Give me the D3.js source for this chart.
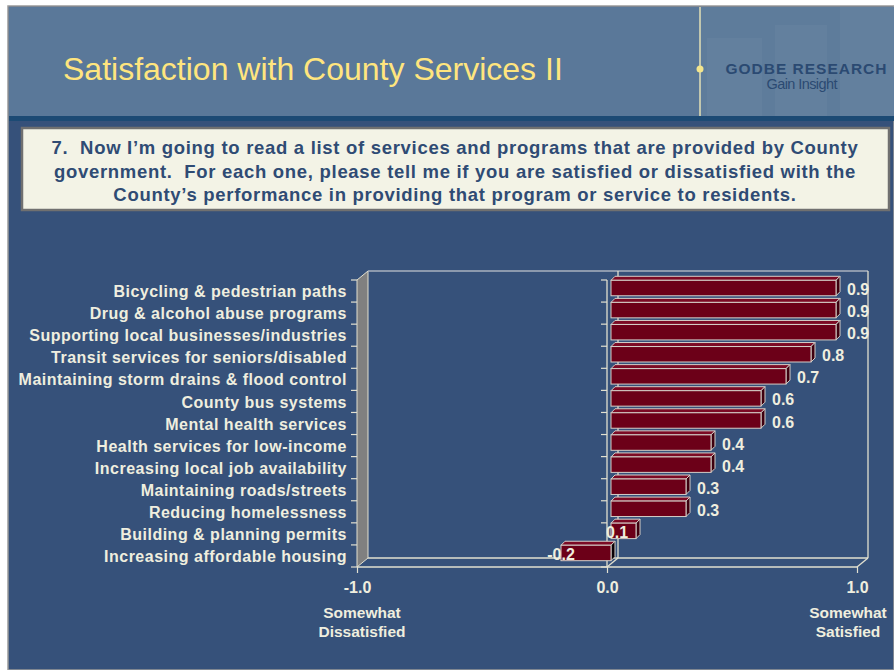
<!DOCTYPE html>
<html>
<head>
<meta charset="utf-8">
<script src="https://cdn.jsdelivr.net/npm/d3@7"></script>
<style>
	body { margin: 0; background: #fff; }
	svg { display: block; font-family: 'Liberation Sans', Arial, sans-serif; }
</style>
</head>
<body>
<div id="chart"></div>
<script>

var title = 'Satisfaction with County Services II';
var question = [
	'7.  Now I\u2019m going to read a list of services and programs that are provided by County',
	'government.  For each one, please tell me if you are satisfied or dissatisfied with the',
	'County\u2019s performance in providing that program or service to residents.'
];

var categories = [
	'Bicycling & pedestrian paths',
	'Drug & alcohol abuse programs',
	'Supporting local businesses/industries',
	'Transit services for seniors/disabled',
	'Maintaining storm drains & flood control',
	'County bus systems',
	'Mental health services',
	'Health services for low-income',
	'Increasing local job availability',
	'Maintaining roads/streets',
	'Reducing homelessness',
	'Building & planning permits',
	'Increasing affordable housing'
];
var values = [0.9, 0.9, 0.9, 0.8, 0.7, 0.6, 0.6, 0.4, 0.4, 0.3, 0.3, 0.1, -0.2];
var ticks = [-1, 0, 1];
var tickNotes = [['Somewhat', 'Dissatisfied'], [], ['Somewhat', 'Satisfied']];

var W = 894, H = 670;
var BODY = '#36517a';
var LINE = '#e2e0d0';
var TEXT = '#efeedf';
var fmt = d3.formatLocale({ decimal: '.', thousands: ',', grouping: [3], currency: ['', ''], minus: '-' }).format('.1f');

var svg = d3.select('#chart').append('svg').attr('width', W).attr('height', H);

// slide frame and header
svg.append('rect').attr('x', 8).attr('y', 6).attr('width', W - 8).attr('height', H - 6).style('fill', BODY).style('stroke', '#9a9a9a').style('stroke-width', 1.5);
svg.append('rect').attr('x', 9).attr('y', 7).attr('width', W - 9).attr('height', 110).style('fill', '#5a7899');
svg.append('rect').attr('x', 700).attr('y', 7).attr('width', W - 700).attr('height', 110).style('fill', '#5e7c9b');

[[707, 38, 55], [775, 25, 52], [840, 7, 54]].forEach(function(r) {
	svg.append('rect').attr('x', r[0]).attr('y', r[1]).attr('width', r[2]).attr('height', 117 - r[1]).style('fill', '#fff').style('opacity', 0.03);
});

svg.append('rect').attr('x', 9).attr('y', 116).attr('width', W - 9).attr('height', 5).style('fill', '#1c4a74');
svg.append('line').attr('x1', 700).attr('x2', 700).attr('y1', 7).attr('y2', 116).style('stroke', '#e4e0b6').style('stroke-width', 1.5);
svg.append('circle').attr('cx', 700).attr('cy', 69).attr('r', 3.5).style('fill', '#f3e58c');

svg.append('text').attr('x', 63).attr('y', 80).text(title)
	.style('font-size', '32px').style('fill', '#ffe57e');

svg.append('text').attr('x', 806).attr('y', 74).attr('text-anchor', 'middle').text('GODBE RESEARCH')
	.attr('textLength', 161).style('font-size', '15.5px').style('font-weight', 'bold').style('fill', '#2b4a72');
svg.append('text').attr('x', 802).attr('y', 89).attr('text-anchor', 'middle').text('Gain Insight')
	.attr('textLength', 71).style('font-size', '14.5px').style('fill', '#2b4a72');

// question box
svg.append('rect').attr('x', 22).attr('y', 128).attr('width', 867).attr('height', 82)
	.style('fill', '#f3f3e6').style('stroke', '#707070').style('stroke-width', 2.5);

svg.append('g').selectAll('text').data(question).enter().append('text')
	.attr('x', 455).attr('y', function(d, i) { return 154 + i * 23.5; })
	.attr('text-anchor', 'middle').text(function(d) { return d; })
	.style('white-space', 'pre')
	.style('font-size', '18.5px').style('letter-spacing', '0.7px').style('font-weight', 'bold').style('fill', '#2f4b74');

// chart
var x = d3.scaleLinear().domain([-1, 1]).range([357, 857]);
var y = d3.scaleBand().domain(categories).range([280, 567]);
var dx = 11, dy = -9;
var bh = y.bandwidth() * 0.7;
var top0 = y.range()[0], bot0 = y.range()[1];

var chart = svg.append('g');

// left wall
chart.append('path')
	.attr('d', 'M{0},{1}L{2},{3}L{2},{4}L{0},{5}Z'.replace(/\{(\d)\}/g, function(m, k) {
		return [x(-1), top0, x(-1) + dx, top0 + dy, bot0 + dy, bot0][k];
	}))
	.style('fill', '#808080').style('stroke', LINE).style('stroke-width', 1);

// back wall + floor
var frame = [
	[x(-1) + dx, top0 + dy, x(1) + dx, top0 + dy, '#aab2bf'],
	[x(1) + dx, top0 + dy, x(1) + dx, bot0 + dy, LINE],
	[x(-1) + dx, bot0 + dy, x(1) + dx, bot0 + dy, LINE],
	[x(-1), bot0, x(1), bot0, LINE],
	[x(1), bot0, x(1) + dx, bot0 + dy, LINE],
	[x(0), bot0, x(0) + dx, bot0 + dy, LINE],
	[x(0) + dx, top0 + dy, x(0) + dx, bot0 + dy, LINE],
	[x(0), top0, x(0), bot0, LINE]
];

chart.selectAll('line.frame').data(frame).enter().append('line').attr('class', 'frame')
	.attr('x1', function(d) { return d[0]; }).attr('y1', function(d) { return d[1]; })
	.attr('x2', function(d) { return d[2]; }).attr('y2', function(d) { return d[3]; })
	.style('stroke', function(d) { return d[4]; }).style('stroke-width', 1.3);

// category ticks (between categories)
var bounds = categories.map(function(c) { return y(c); }).concat([bot0]);
[x(-1), x(0)].forEach(function(px) {
	chart.append('g').selectAll('line').data(bounds).enter().append('line')
		.attr('x1', px - 6).attr('x2', px).attr('y1', function(d) { return d; }).attr('y2', function(d) { return d; })
		.style('stroke', LINE).style('stroke-width', 1.2);
});

// category labels
var yAxis = chart.append('g').attr('transform', 'translate(' + x(-1) + ',1)')
	.call(d3.axisLeft(y).tickSize(0).tickPadding(10));
yAxis.select('.domain').remove();
yAxis.selectAll('text').style('font-size', '16px').style('font-weight', 'bold').style('letter-spacing', '0.5px')
	.style('fill', TEXT).style('font-family', "'Liberation Sans', Arial, sans-serif");

// value axis
var xAxis = chart.append('g').attr('transform', 'translate(0,' + bot0 + ')')
	.call(d3.axisBottom(x).tickValues(ticks).tickFormat(fmt).tickSize(6).tickPadding(9));
xAxis.select('.domain').remove();
xAxis.selectAll('line').style('stroke', LINE).style('stroke-width', 1.2);
xAxis.selectAll('text').style('font-size', '16px').style('font-weight', 'bold').style('fill', TEXT)
	.style('font-family', "'Liberation Sans', Arial, sans-serif");

ticks.forEach(function(t, i) {
	chart.append('g').selectAll('text').data(tickNotes[i]).enter().append('text')
		.attr('x', x(t) + (t < 0 ? 5 : t > 0 ? -9 : 0)).attr('y', function(d, j) { return 618 + j * 19; })
		.attr('text-anchor', 'middle').text(function(d) { return d; })
		.style('font-size', '15.5px').style('font-weight', 'bold').style('fill', TEXT);
});

// bars
var data = categories.map(function(c, i) { return { name: c, value: values[i] }; });
var fx = 4, fy = -3, tk = 4;

var bars = chart.selectAll('g.bar').data(data).enter().append('g').attr('class', 'bar');

bars.each(function(d) {
	var g = d3.select(this);
	var x0 = x(Math.min(0, d.value)) + fx;
	var x1 = x(Math.max(0, d.value)) + fx;
	var yc = y(d.name) + y.bandwidth() / 2 + fy;
	var yt = yc - bh / 2;
	var yb = yc + bh / 2;

	g.append('path')
		.attr('d', 'M' + x0 + ',' + yt + 'L' + x1 + ',' + yt + 'L' + (x1 + tk) + ',' + (yt - tk) + 'L' + (x0 + tk) + ',' + (yt - tk) + 'Z')
		.style('fill', '#7c0a24').style('stroke', '#d6cfc8').style('stroke-width', 1);

	g.append('path')
		.attr('d', 'M' + x1 + ',' + yt + 'L' + (x1 + tk) + ',' + (yt - tk) + 'L' + (x1 + tk) + ',' + (yb - tk) + 'L' + x1 + ',' + yb + 'Z')
		.style('fill', d.value < 0 ? '#0a0005' : '#3d000f').style('stroke', '#d6cfc8').style('stroke-width', 1);

	g.append('rect').attr('x', x0).attr('y', yt).attr('width', x1 - x0).attr('height', bh)
		.style('fill', '#6c0018').style('stroke', '#d6cfc8').style('stroke-width', 1);
});

// value labels
chart.selectAll('text.val').data(data).enter().append('text').attr('class', 'val')
	.attr('x', function(d) {
		if (d.value < 0)
			return x(d.value) + fx;
		if (d.value < 0.2)
			return x(0) + fx + 6;
		return x(d.value) + fx + 11;
	})
	.attr('y', function(d) { return y(d.name) + y.bandwidth() / 2 + fy + 7; })
	.attr('text-anchor', function(d) { return d.value < 0.2 ? 'middle' : 'start'; })
	.text(function(d) { return fmt(d.value); })
	.style('font-size', '16px').style('font-weight', 'bold').style('fill', TEXT);

</script>
</body>
</html>
